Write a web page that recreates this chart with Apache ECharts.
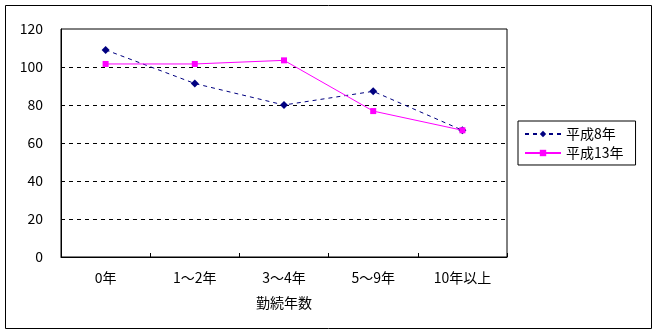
<!DOCTYPE html>
<html><head><meta charset="utf-8">
<script src="https://cdn.jsdelivr.net/npm/echarts@6/dist/echarts.min.js"></script>
<style>html,body{margin:0;padding:0;background:#fff}#c{width:654px;height:331px}</style>
</head><body><div id="c"></div>
<script>
const categories = ['0年', '1～2年', '3～4年', '5～9年', '10年以上'];
const seriesH8 = [109, 91.3, 80, 87.2, 66.7];
const seriesH13 = [101.6, 101.6, 103.5, 76.8, 66.7];
const yTicks = [0, 20, 40, 60, 80, 100, 120];
const xTitle = '勤続年数';
const FONT = '"Noto Sans CJK JP", sans-serif';

const chart = echarts.init(document.getElementById('c'), null, {renderer: 'canvas'});
chart.setOption({
  animation: false,
  backgroundColor: '#fff',
  textStyle: {fontFamily: FONT},
  graphic: [{
    type: 'rect', left: 3, top: 3,
    shape: {width: 646, height: 323},
    style: {fill: 'none', stroke: '#000', lineWidth: 1}
  }],
  grid: {left: 61, top: 29, width: 446, height: 228, show: true, borderColor: '#000', borderWidth: 1, backgroundColor: 'transparent'},
  legend: {
    orient: 'vertical', left: 518, top: 121,
    itemWidth: 36, itemHeight: 8, itemGap: 5,
    padding: [6, 12, 5, 6],
    borderColor: '#000', borderWidth: 1,
    textStyle: {fontFamily: FONT, fontSize: 14, color: '#000'},
    data: ['平成8年', '平成13年']
  },
  xAxis: {
    type: 'category', data: categories, boundaryGap: true,
    name: xTitle, nameLocation: 'middle', nameGap: 39,
    nameTextStyle: {fontFamily: FONT, fontSize: 14, color: '#000'},
    axisLine: {lineStyle: {color: '#000'}},
    axisTick: {show: true, length: 4, inside: true, lineStyle: {color: '#000'}},
    axisLabel: {fontFamily: FONT, fontSize: 14, color: '#000', margin: 14},
    splitLine: {show: false}
  },
  yAxis: {
    type: 'value', min: yTicks[0], max: yTicks[yTicks.length - 1], interval: 20,
    axisLine: {show: true, lineStyle: {color: '#000'}},
    axisTick: {show: false},
    axisLabel: {fontFamily: FONT, fontSize: 14, color: '#000', margin: 18},
    splitLine: {show: true, showMinLine: false, showMaxLine: false, lineStyle: {color: '#000', type: [4, 4], width: 1}}
  },
  series: [{
    name: '平成8年', type: 'line', data: seriesH8,
    symbol: 'diamond', symbolSize: 8,
    itemStyle: {color: '#000080'},
    lineStyle: {color: '#000080', width: 1, type: [4, 4]}
  }, {
    name: '平成13年', type: 'line', data: seriesH13,
    symbol: 'rect', symbolSize: 6,
    itemStyle: {color: '#FF00FF'},
    lineStyle: {color: '#FF00FF', width: 1}
  }]
});
</script></body></html>
